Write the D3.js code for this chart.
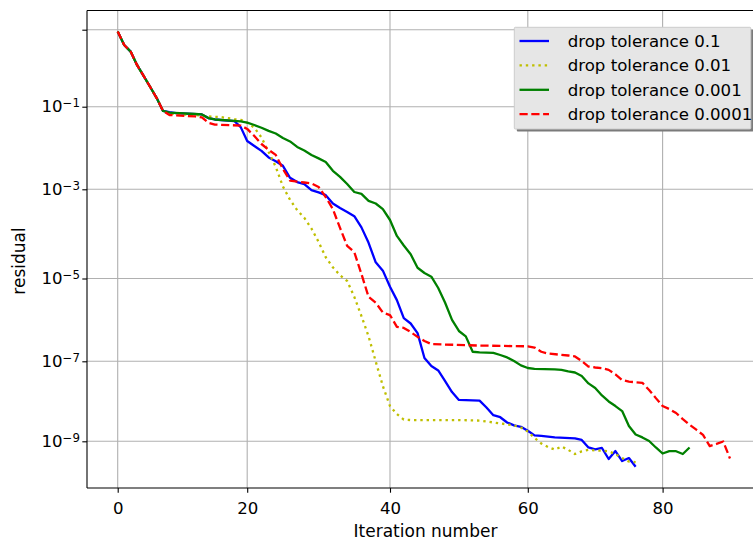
<!DOCTYPE html>
<html><head><meta charset="utf-8">
<script src="https://cdn.jsdelivr.net/npm/d3@7"></script>
<style>html,body{margin:0;padding:0;background:#fff;overflow:hidden}text{font-family:"DejaVu Sans",sans-serif;fill:#000}</style>
</head><body><svg id="c" width="753" height="539"></svg>
<script>
// ---------- data ----------
const xTicks = [0, 20, 40, 60, 80];
const yTicks = [1e1, 1e-1, 1e-3, 1e-5, 1e-7, 1e-9];
const yTickExp = ["", "\u22121", "\u22123", "\u22125", "\u22127", "\u22129"];
const seriesNames = ["drop tolerance 0.1", "drop tolerance 0.01", "drop tolerance 0.001", "drop tolerance 0.0001"];

const blueIter = [0,1,2,3,4,5,6,7,8,9,13,14,15,18,19,20,21,22,23,24,25,26,27,28,29,30,31,32,33,34,35,36,37,38,39,40,41,42,43,44,45,46,47,48,49,50,53,54,55,56,57,58,59,60,61,62,64,67,68,69,70,71,72,73,74,75,76];
const blueRes = [9.0,4.0,2.7,1.2,0.63,0.33,0.17,0.079,0.074,0.070,0.065,0.053,0.049,0.045,0.032,0.0148,0.0112,0.0085,0.0059,0.0048,0.0037,0.0019,0.0015,0.00134,9.6e-4,8.5e-4,7.4e-4,4.8e-4,3.8e-4,3.1e-4,2.5e-4,1.4e-4,6.3e-5,2.3e-5,1.5e-5,6.3e-6,3.0e-6,1.1e-6,8.2e-7,4.8e-7,1.2e-7,7.6e-8,5.9e-8,3.2e-8,1.7e-8,1.08e-8,1.04e-8,7.0e-9,4.5e-9,4.0e-9,2.95e-9,2.5e-9,2.3e-9,1.84e-9,1.41e-9,1.36e-9,1.26e-9,1.19e-9,1.08e-9,7.0e-10,6.3e-10,6.8e-10,3.6e-10,5.7e-10,3.2e-10,3.8e-10,2.3e-10];

const yellowIter = [0,1,2,3,4,5,6,7,8,12,13,14,16,18,19,20,21,22,23,24,25,26,27,28,29,30,31,32,33,34,35,36,37,38,39,40,41,42,43,50,53,56,58,59,60,61,62,63,64,65,66,67,68,69,70,71,72,73,74,75,76];
const yellowRes = [9.0,4.0,2.7,1.2,0.63,0.33,0.17,0.079,0.068,0.063,0.061,0.058,0.056,0.050,0.048,0.041,0.031,0.018,0.008,0.0035,0.00117,5.8e-4,3.4e-4,2.3e-4,1.32e-4,6.6e-5,3.0e-5,1.78e-5,1.18e-5,8.7e-6,3.6e-6,1.24e-6,4.0e-7,9.9e-8,2.4e-8,7.6e-9,4.8e-9,3.5e-9,3.4e-9,3.4e-9,3.3e-9,2.8e-9,2.5e-9,2.2e-9,1.76e-9,1.21e-9,8.8e-10,7.2e-10,6.2e-10,7.4e-10,6.1e-10,4.8e-10,5.6e-10,6.1e-10,5.9e-10,5.8e-10,5.6e-10,4.8e-10,3.8e-10,3.1e-10,3.0e-10];

const greenIter = [0,1,2,3,4,5,6,7,8,12,13,14,15,19,20,21,22,23,24,25,26,27,28,29,30,31,32,33,34,35,36,37,38,39,40,41,42,43,44,45,46,47,48,49,50,51,52,53,55,56,57,58,59,60,61,64,65,66,67,68,69,70,71,72,73,74,75,76,77,78,79,80,81,82,83,84];
const greenRes = [9.0,4.0,2.7,1.2,0.63,0.33,0.17,0.079,0.072,0.0665,0.065,0.053,0.049,0.044,0.041,0.036,0.031,0.026,0.0224,0.0175,0.0144,0.0106,0.0087,0.0068,0.0056,0.0046,0.0028,0.0020,0.00134,8.7e-4,7.9e-4,5.5e-4,4.8e-4,3.6e-4,2.05e-4,9.0e-5,5.5e-5,3.5e-5,1.74e-5,1.33e-5,1.1e-5,5.9e-6,2.6e-6,1.0e-6,5.4e-7,4.0e-7,1.7e-7,1.65e-7,1.6e-7,1.42e-7,1.24e-7,1.02e-7,7.9e-8,6.8e-8,6.5e-8,6.3e-8,6.1e-8,5.6e-8,5.25e-8,4.3e-8,2.8e-8,2.15e-8,1.4e-8,9.9e-9,7.6e-9,5.7e-9,2.4e-9,1.48e-9,1.25e-9,1.02e-9,7.0e-10,4.95e-10,5.7e-10,5.65e-10,4.8e-10,7.0e-10];

const redIter = [0,1,2,3,4,5,6,7,8,12,13,14,15,19,20,21,22,23,24,25,26,27,28,29,30,31,32,33,34,35,36,37,38,39,40,41,42,43,44,45,46,53,60,61,62,63,66,67,68,69,70,71,72,73,74,75,77,78,79,80,81,82,83,84,85,86,87,88,89,90];
const redRes = [9.0,4.0,2.7,1.2,0.63,0.33,0.17,0.079,0.063,0.058,0.055,0.041,0.037,0.035,0.029,0.0195,0.0125,0.0090,0.0068,0.0031,0.00163,0.00153,0.00146,0.00138,0.00114,6.7e-4,3.6e-4,1.36e-4,5.4e-5,3.9e-5,1.26e-5,3.6e-6,2.6e-6,1.5e-6,1.31e-6,6.8e-7,6.4e-7,5.1e-7,3.9e-7,3.1e-7,2.6e-7,2.4e-7,2.3e-7,2.15e-7,1.7e-7,1.54e-7,1.38e-7,1.31e-7,1.02e-7,7.4e-8,7.0e-8,6.7e-8,6.1e-8,4.7e-8,3.4e-8,3.1e-8,2.9e-8,1.91e-8,1.2e-8,7.6e-9,6.4e-9,5.1e-9,3.6e-9,2.6e-9,1.95e-9,1.44e-9,7.6e-10,8.6e-10,9.9e-10,3.7e-10];

// ---------- chart ----------
const series = [
  {name: seriesNames[0], it: blueIter,   r: blueRes,   color: "#0000ff", dash: null},
  {name: seriesNames[1], it: yellowIter, r: yellowRes, color: "#bfbf00", dash: "2.4,3.9"},
  {name: seriesNames[2], it: greenIter,  r: greenRes,  color: "#008000", dash: null},
  {name: seriesNames[3], it: redIter,    r: redRes,    color: "#ff0000", dash: "8.2,3.6"}
];

const FS = 16.6;
const L = 87, R = 760.3, T = 10.5, B = 488;
const svg = d3.select("#c");

const x = d3.scaleLinear()
  .domain([-4.7, 0, 20, 40, 60, 80, 94.5])
  .range([L, 117.7, 247.2, 390, 527.8, 662.6, R]);
const y = d3.scaleLog()
  .domain([Math.pow(10, 1.5), 1e1, 1e-1, 1e-3, 1e-5, 1e-7, 1e-9, Math.pow(10, -10.17)])
  .range([T, 29.7, 106.7, 189.3, 278.5, 361.3, 441.3, B]);

svg.append("defs").append("clipPath").attr("id", "clip")
  .append("rect").attr("x", L).attr("y", T).attr("width", R - L).attr("height", B - T);

// grid
const grid = svg.append("g");
grid.selectAll("line.v").data(xTicks).join("line")
  .attr("x1", d => x(d)).attr("x2", d => x(d)).attr("y1", T).attr("y2", B)
  .attr("stroke", "#b0b0b0").attr("stroke-width", 1.1);
grid.selectAll("line.h").data(yTicks).join("line")
  .attr("y1", d => y(d)).attr("y2", d => y(d)).attr("x1", L).attr("x2", R)
  .attr("stroke", "#b0b0b0").attr("stroke-width", 1.1);

// lines
const line = d3.line().x(d => x(d[0])).y(d => y(d[1]));
const plot = svg.append("g").attr("clip-path", "url(#clip)");
series.forEach(s => {
  const pts = s.it.map((v, i) => [v, s.r[i]]);
  plot.append("path").datum(pts).attr("d", line)
    .attr("fill", "none").attr("stroke", s.color).attr("stroke-width", 2.3)
    .attr("stroke-linejoin", "round")
    .attr("stroke-dasharray", s.dash);
});

// axes
const xAxis = svg.append("g").attr("transform", `translate(0,${B})`)
  .call(d3.axisBottom(x).tickValues(xTicks).tickSize(4.7).tickSizeOuter(0).tickPadding(4));
xAxis.select(".domain").remove();
xAxis.selectAll(".tick line").attr("stroke", "#000").attr("stroke-width", 1.1);
xAxis.selectAll(".tick text").attr("font-size", FS).attr("font-family", "DejaVu Sans")
  .attr("fill", "#000").attr("dy", null).attr("y", 25.5);

const yAxis = svg.append("g").attr("transform", `translate(${L},0)`)
  .call(d3.axisLeft(y).tickValues(yTicks).tickSize(4.7).tickSizeOuter(0).tickFormat(""));
yAxis.select(".domain").remove();
yAxis.selectAll(".tick line").attr("stroke", "#000").attr("stroke-width", 1.1);
yAxis.selectAll(".tick text").remove();
yAxis.selectAll(".tick").each(function(d, i) {
  if (!yTickExp[i]) return;
  const t = d3.select(this).append("text")
    .attr("x", -7).attr("y", 5.2).attr("text-anchor", "end")
    .attr("font-size", FS).attr("font-family", "DejaVu Sans").attr("fill", "#000");
  t.append("tspan").text("10");
  t.append("tspan").attr("font-size", 11.8).attr("dy", -5.4).text(yTickExp[i]);
});

// spines
const sp = svg.append("g").attr("stroke", "#000").attr("stroke-width", 1.1);
sp.append("line").attr("x1", L).attr("x2", L).attr("y1", T).attr("y2", B);
sp.append("line").attr("x1", L).attr("x2", R).attr("y1", T).attr("y2", T);
sp.append("line").attr("x1", L).attr("x2", R).attr("y1", B).attr("y2", B);
sp.append("line").attr("x1", R).attr("x2", R).attr("y1", T).attr("y2", B);

// axis labels
svg.append("text").attr("x", 425.5).attr("y", 536.5).attr("text-anchor", "middle")
  .attr("font-size", FS + 0.4).text("Iteration number");
svg.append("text").attr("transform", "translate(25,261) rotate(-90)").attr("text-anchor", "middle")
  .attr("font-size", FS + 0.4).text("residual");

// legend
const lg = svg.append("g");
const lx = 514.3, ly = 27.3, lw = 236.5, lh = 101.7;
lg.append("rect").attr("x", lx + 2.5).attr("y", ly + 2.5).attr("width", lw).attr("height", lh)
  .attr("fill", "#7a7a7a").attr("rx", 1);
lg.append("rect").attr("x", lx).attr("y", ly).attr("width", lw).attr("height", lh)
  .attr("fill", "#e6e6e6").attr("stroke", "#cccccc").attr("stroke-width", 1).attr("rx", 1);
series.forEach((s, i) => {
  const cy = 41 + i * 24.4;
  lg.append("line").attr("x1", 519.5).attr("x2", 549).attr("y1", cy).attr("y2", cy)
    .attr("stroke", s.color).attr("stroke-width", 2.3).attr("stroke-dasharray", s.dash);
  lg.append("text").attr("x", 567.7).attr("y", cy + 5.7).attr("font-size", FS).text(s.name);
});
</script></body></html>
